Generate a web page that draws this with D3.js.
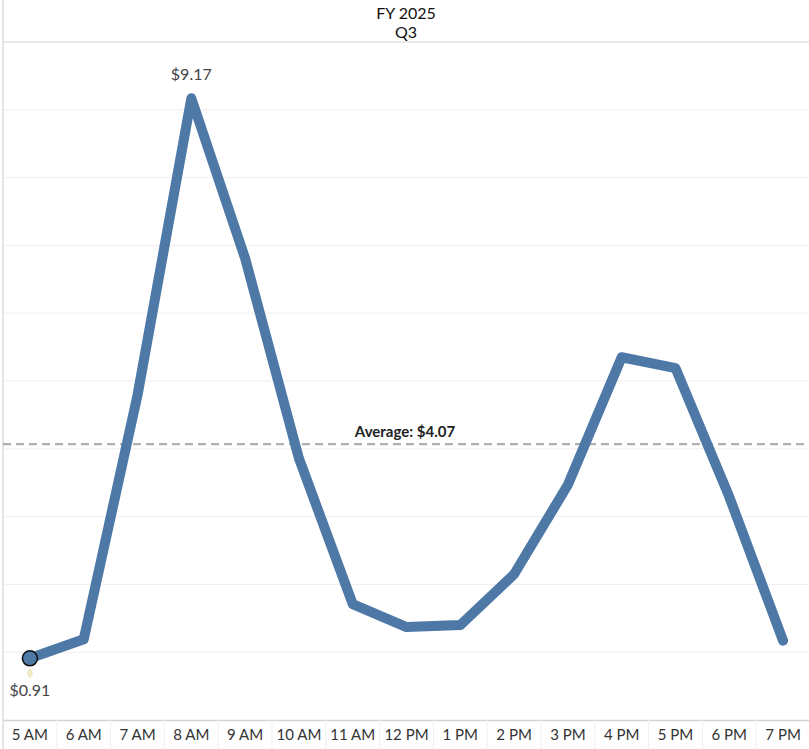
<!DOCTYPE html>
<html>
<head>
<meta charset="utf-8">
<script src="https://cdn.jsdelivr.net/npm/d3@7"></script>
<style>
  html, body { margin: 0; padding: 0; background: #fff; }
  svg { display: block; font-family: Lato, "Open Sans", Arial, sans-serif; }
</style>
</head>
<body>
<svg id="chart" width="809" height="749"></svg>
<script>
// Hourly values for FY 2025, Q3
const hours = ["5 AM","6 AM","7 AM","8 AM","9 AM","10 AM","11 AM","12 PM","1 PM","2 PM","3 PM","4 PM","5 PM","6 PM","7 PM"];
const values = [0.91, 1.19, 4.79, 9.17, 6.81, 3.86, 1.71, 1.37, 1.40, 2.15, 3.47, 5.35, 5.19, 3.29, 1.17];
const averageValue = 4.07;
const yTicks = [0,1,2,3,4,5,6,7,8,9,10];
const titleLines = ["FY 2025", "Q3"];

const svg = d3.select("#chart");
const W = 809, H = 749;
const plotLeft = 3, plotRight = 810, plotTop = 42, plotBottom = 720;

const x = d3.scaleBand().domain(hours).range([plotLeft, plotRight]).padding(0);
const y = d3.scaleLinear().domain([0, 10]).range([plotBottom, plotTop]);
const cx = d => x(d) + x.bandwidth() / 2;

// Title
svg.append("g").selectAll("text").data(titleLines).join("text")
  .attr("x", 406).attr("y", (d, i) => 19 + i * 19)
  .attr("text-anchor", "middle")
  .attr("font-size", 16).attr("fill", "#111")
  .text(d => d);

// Horizontal gridlines
svg.append("g").selectAll("line").data(yTicks.filter(t => t > 0 && t < 10)).join("line")
  .attr("x1", plotLeft).attr("x2", W)
  .attr("y1", d => y(d)).attr("y2", d => y(d))
  .attr("stroke", "#efefef").attr("stroke-width", 1);

// Frame lines
svg.append("line").attr("x1", plotLeft).attr("x2", W).attr("y1", plotTop).attr("y2", plotTop)
  .attr("stroke", "#d4d4d4").attr("stroke-width", 1.2);
svg.append("line").attr("x1", plotLeft).attr("x2", plotLeft).attr("y1", 0).attr("y2", H)
  .attr("stroke", "#d4d4d4").attr("stroke-width", 1.2);

// Bottom axis
const xAxis = svg.append("g").attr("transform", `translate(0,${plotBottom})`)
  .call(d3.axisBottom(x).tickSize(0).tickPadding(9));
xAxis.select(".domain").attr("stroke", "#d4d4d4").attr("stroke-width", 1.5);
xAxis.selectAll("text").attr("font-size", 15).attr("fill", "#333")
  .attr("font-family", "Lato, 'Open Sans', Arial, sans-serif");
// Band separators under the axis
svg.append("g").selectAll("line").data(hours.slice(1)).join("line")
  .attr("x1", d => x(d)).attr("x2", d => x(d))
  .attr("y1", plotBottom).attr("y2", H)
  .attr("stroke", "#efefef").attr("stroke-width", 1);

// Average reference line
svg.append("line")
  .attr("x1", plotLeft).attr("x2", W)
  .attr("y1", y(averageValue)).attr("y2", y(averageValue))
  .attr("stroke", "#b0b0b0").attr("stroke-width", 2.2)
  .attr("stroke-dasharray", "8,5");
svg.append("text")
  .attr("x", 405).attr("y", y(averageValue) - 7)
  .attr("text-anchor", "middle")
  .attr("font-size", 15).attr("font-weight", "bold").attr("fill", "#222")
  .text(`Average: $${averageValue.toFixed(2)}`);

// Main line
const line = d3.line().x((d, i) => cx(hours[i])).y(d => y(d));
svg.append("path").datum(values)
  .attr("d", line)
  .attr("fill", "none")
  .attr("stroke", "#4e79a7")
  .attr("stroke-width", 10)
  .attr("stroke-linejoin", "round")
  .attr("stroke-linecap", "round");

// Highlighted first point
svg.append("path")
  .attr("d", d3.symbol(d3.symbolDiamond, 22)())
  .attr("transform", `translate(${cx(hours[0])},${y(values[0]) + 15})`)
  .attr("fill", "#f3f0c8").attr("stroke", "#dcd8a0").attr("stroke-width", 0.8);
svg.append("circle")
  .attr("cx", cx(hours[0])).attr("cy", y(values[0]))
  .attr("r", 7.5)
  .attr("fill", "#4e79a7").attr("stroke", "#111").attr("stroke-width", 1.6);

// Max / min labels
const maxI = d3.maxIndex(values), minI = d3.minIndex(values);
svg.append("text")
  .attr("x", cx(hours[maxI])).attr("y", y(values[maxI]) - 18)
  .attr("text-anchor", "middle").attr("font-size", 16).attr("fill", "#444")
  .text(`$${values[maxI].toFixed(2)}`);
svg.append("text")
  .attr("x", cx(hours[minI])).attr("y", y(values[minI]) + 38)
  .attr("text-anchor", "middle").attr("font-size", 16).attr("fill", "#444")
  .text(`$${values[minI].toFixed(2)}`);
</script>
</body>
</html>
